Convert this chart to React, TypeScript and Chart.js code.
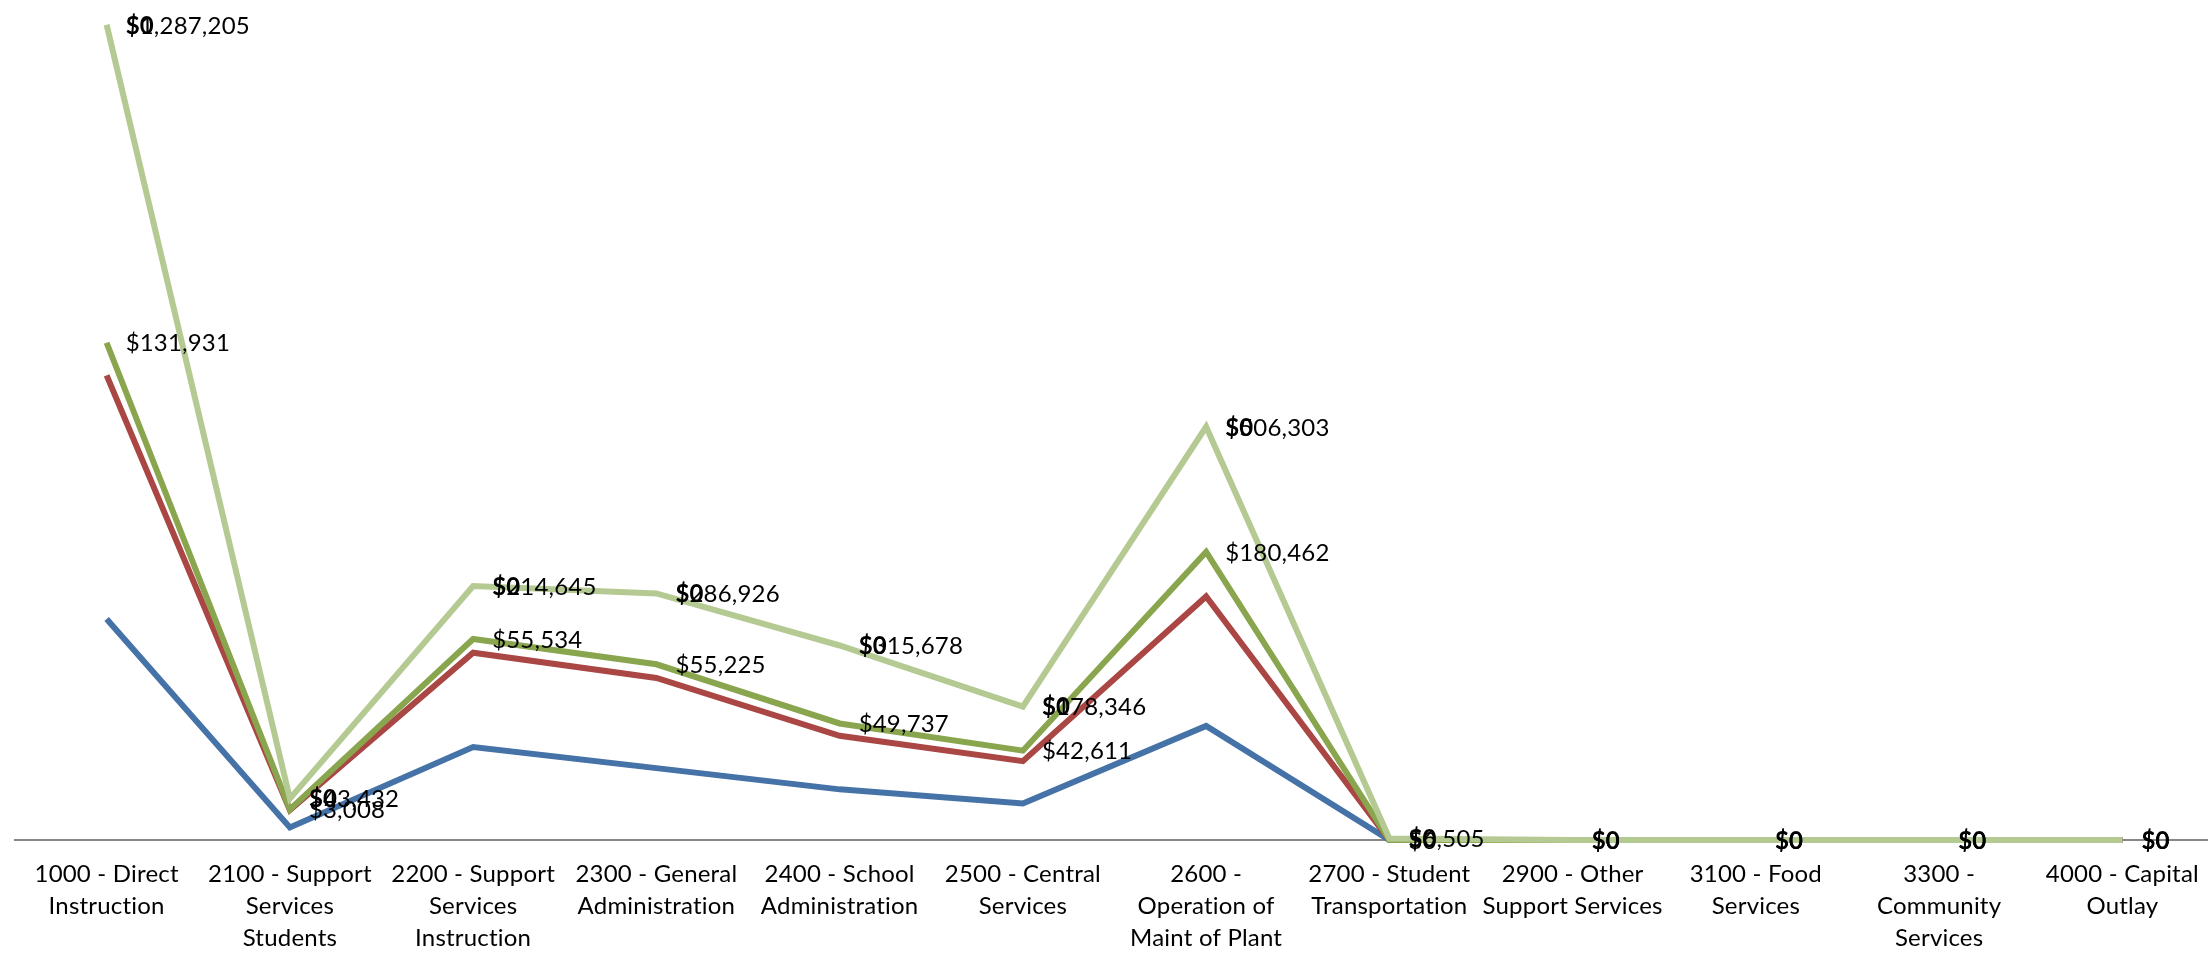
import React, { useEffect, useRef } from 'react';
import { Chart, registerables } from 'chart.js';

Chart.register(...registerables);

const categories: string[][] = [
  ['1000 - Direct', 'Instruction'],
  ['2100 - Support', 'Services', 'Students'],
  ['2200 - Support', 'Services', 'Instruction'],
  ['2300 - General', 'Administration'],
  ['2400 - School', 'Administration'],
  ['2500 - Central', 'Services'],
  ['2600 -', 'Operation of', 'Maint of Plant'],
  ['2700 - Student', 'Transportation'],
  ['2900 - Other', 'Support Services'],
  ['3100 - Food', 'Services'],
  ['3300 -', 'Community', 'Services'],
  ['4000 - Capital', 'Outlay'],
];

const blueValues = [895000, 51000, 376000, 291000, 205000, 148000, 462000, 0, 0, 0, 0, 0];
const redValues = [986000, 70000, 382000, 365000, 217000, 171000, 524000, 0, 0, 0, 0, 0];
const greenValues = [131931, 3008, 55534, 55225, 49737, 42611, 180462, 0, 0, 0, 0, 0];
const lightGreenValues = [1287205, 43432, 214645, 286926, 315678, 178346, 506303, 6505, 0, 0, 0, 0];
const topValues = [0, 0, 0, 0, 0, 0, 0, 0, 0, 0, 0, 0];

const seriesColors = ['#4572A7', '#AA4643', '#89A54E', '#B5CA92'];
const FONT = 'Lato, "Open Sans", sans-serif';

const fmt = (v: number) => '$' + Math.round(v).toLocaleString('en-US');

export default function App() {
  const ref = useRef<HTMLCanvasElement>(null);

  useEffect(() => {
    const canvas = ref.current;
    if (!canvas) return;

    const series = [blueValues, redValues, greenValues, lightGreenValues, topValues];
    // cumulative (stacked) positions, built from the series
    const cumulative: number[][] = [];
    series.forEach((vals, si) => {
      cumulative.push(vals.map((v, i) => v + (si > 0 ? cumulative[si - 1][i] : 0)));
    });

    const labelSpecs = [
      { datasetIndex: 2, values: greenValues, bold: false },
      { datasetIndex: 3, values: lightGreenValues, bold: false },
      { datasetIndex: 4, values: topValues, bold: true },
    ];

    const noLigatures = {
      id: 'noLigatures',
      beforeDraw(chart: any) {
        try {
          (chart.ctx as any).letterSpacing = '0.2px';
        } catch (e) {
          /* ignore */
        }
      },
    };

    const valueLabels = {
      id: 'valueLabels',
      afterDatasetsDraw(chart: any) {
        const ctx = chart.ctx;
        ctx.save();
        ctx.textAlign = 'left';
        ctx.textBaseline = 'middle';
        ctx.fillStyle = '#000';
        labelSpecs.forEach((spec) => {
          const meta = chart.getDatasetMeta(spec.datasetIndex);
          ctx.font = (spec.bold ? 'bold ' : '') + '24px ' + FONT;
          meta.data.forEach((pt: any, i: number) => {
            ctx.fillText(fmt(spec.values[i]), pt.x + 19, pt.y + 1);
          });
        });
        ctx.restore();
      },
    };

    const mk = (idx: number, order: number) => ({
      label: 'S' + idx,
      data: cumulative[idx],
      borderColor: seriesColors[idx] || 'rgba(0,0,0,0)',
      backgroundColor: seriesColors[idx] || 'rgba(0,0,0,0)',
      borderWidth: idx < 4 ? 6 : 0,
      showLine: idx < 4,
      pointRadius: 0,
      pointHoverRadius: 0,
      tension: 0,
      fill: false,
      clip: 20,
      order,
    });

    const chart = new Chart(canvas, {
      type: 'line',
      data: {
        labels: categories,
        datasets: [mk(0, 4), mk(1, 3), mk(2, 2), mk(3, 1), mk(4, 0)],
      },
      options: {
        responsive: false,
        animation: false,
        layout: { padding: { left: 15, right: 2, top: 10, bottom: 0 } },
        plugins: { legend: { display: false }, tooltip: { enabled: false } },
        scales: {
          x: {
            offset: true,
            grid: { display: false, drawTicks: false },
            border: { display: true, color: '#878787', width: 2 },
            ticks: {
              autoSkip: false,
              maxRotation: 0,
              minRotation: 0,
              padding: 18,
              color: '#000',
              font: { family: FONT, size: 24, lineHeight: 1.333 },
            },
            afterFit: (scale: any) => {
              scale.height = 116;
            },
          },
          y: {
            display: false,
            min: 0,
            max: 3360000,
          },
        },
      },
      plugins: [noLigatures, valueLabels],
    });

    return () => chart.destroy();
  }, []);

  return (
    <div
      style={{
        position: 'absolute',
        left: 0,
        top: 0,
        width: 2208,
        height: 956,
        overflow: 'hidden',
        background: '#fff',
      }}
    >
      <canvas ref={ref} width={2216} height={956} style={{ display: 'block' }} />
    </div>
  );
}
